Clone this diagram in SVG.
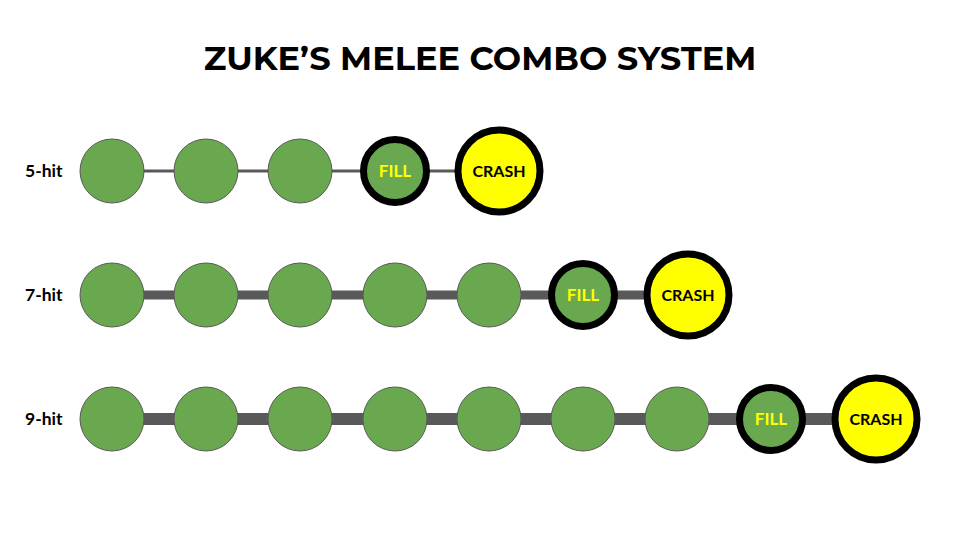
<svg xmlns="http://www.w3.org/2000/svg" width="960" height="540" viewBox="0 0 960 540">
<style>
.bg{fill:#ffffff}
.title{font-family:Montserrat,Inter,"Liberation Sans",sans-serif;font-weight:700;font-size:33.6px;fill:#000;text-anchor:middle}
.lbl{font-family:Lato,"Liberation Sans",sans-serif;font-weight:700;font-size:17.5px;fill:#000;dominant-baseline:central}
.hit{fill:#6aa84f;stroke:#595959;stroke-width:1}
.fill{fill:#6aa84f;stroke:#000;stroke-width:7}
.crash{fill:#ffff00;stroke:#000;stroke-width:7}
.ft{font-family:Lato,"Liberation Sans",sans-serif;font-weight:700;font-size:17px;fill:#ffff00;text-anchor:middle;dominant-baseline:central}
.ct{font-family:Lato,"Liberation Sans",sans-serif;font-weight:700;font-size:16px;fill:#000;text-anchor:middle;dominant-baseline:central}
.c1{stroke:#595959;stroke-width:3}
.c2{stroke:#595959;stroke-width:9}
.c3{stroke:#595959;stroke-width:12}
</style>
<rect class="bg" width="960" height="540"/>
<text class="title" x="480" y="70">ZUKE’S MELEE COMBO SYSTEM</text>
<g id="connectors">
<line class="c1" x1="112" y1="171" x2="499" y2="171"/>
<line class="c2" x1="112" y1="295" x2="688" y2="295"/>
<line class="c3" x1="112" y1="419" x2="876" y2="419"/>
</g>
<g id="row5">
<text class="lbl" x="25" y="170">5-hit</text>
<g id="r5n1"><circle class="hit" cx="112" cy="171" r="32"/></g>
<g id="r5n2"><circle class="hit" cx="206" cy="171" r="32"/></g>
<g id="r5n3"><circle class="hit" cx="300" cy="171" r="32"/></g>
<g id="r5fill"><circle class="fill" cx="395" cy="171" r="31.5"/><text class="ft" x="395" y="170">FILL</text></g>
<g id="r5crash"><circle class="crash" cx="499" cy="171" r="41"/><text class="ct" x="499" y="170">CRASH</text></g>
</g>
<g id="row7">
<text class="lbl" x="25" y="294">7-hit</text>
<g id="r7n1"><circle class="hit" cx="112" cy="295" r="32"/></g>
<g id="r7n2"><circle class="hit" cx="206" cy="295" r="32"/></g>
<g id="r7n3"><circle class="hit" cx="300" cy="295" r="32"/></g>
<g id="r7n4"><circle class="hit" cx="395" cy="295" r="32"/></g>
<g id="r7n5"><circle class="hit" cx="489" cy="295" r="32"/></g>
<g id="r7fill"><circle class="fill" cx="583" cy="295" r="31.5"/><text class="ft" x="583" y="294">FILL</text></g>
<g id="r7crash"><circle class="crash" cx="688" cy="295" r="41"/><text class="ct" x="688" y="294">CRASH</text></g>
</g>
<g id="row9">
<text class="lbl" x="25" y="418">9-hit</text>
<g id="r9n1"><circle class="hit" cx="112" cy="419" r="32"/></g>
<g id="r9n2"><circle class="hit" cx="206" cy="419" r="32"/></g>
<g id="r9n3"><circle class="hit" cx="300" cy="419" r="32"/></g>
<g id="r9n4"><circle class="hit" cx="395" cy="419" r="32"/></g>
<g id="r9n5"><circle class="hit" cx="489" cy="419" r="32"/></g>
<g id="r9n6"><circle class="hit" cx="583" cy="419" r="32"/></g>
<g id="r9n7"><circle class="hit" cx="677" cy="419" r="32"/></g>
<g id="r9fill"><circle class="fill" cx="771" cy="419" r="31.5"/><text class="ft" x="771" y="418">FILL</text></g>
<g id="r9crash"><circle class="crash" cx="876" cy="419" r="41"/><text class="ct" x="876" y="418">CRASH</text></g>
</g>
</svg>
